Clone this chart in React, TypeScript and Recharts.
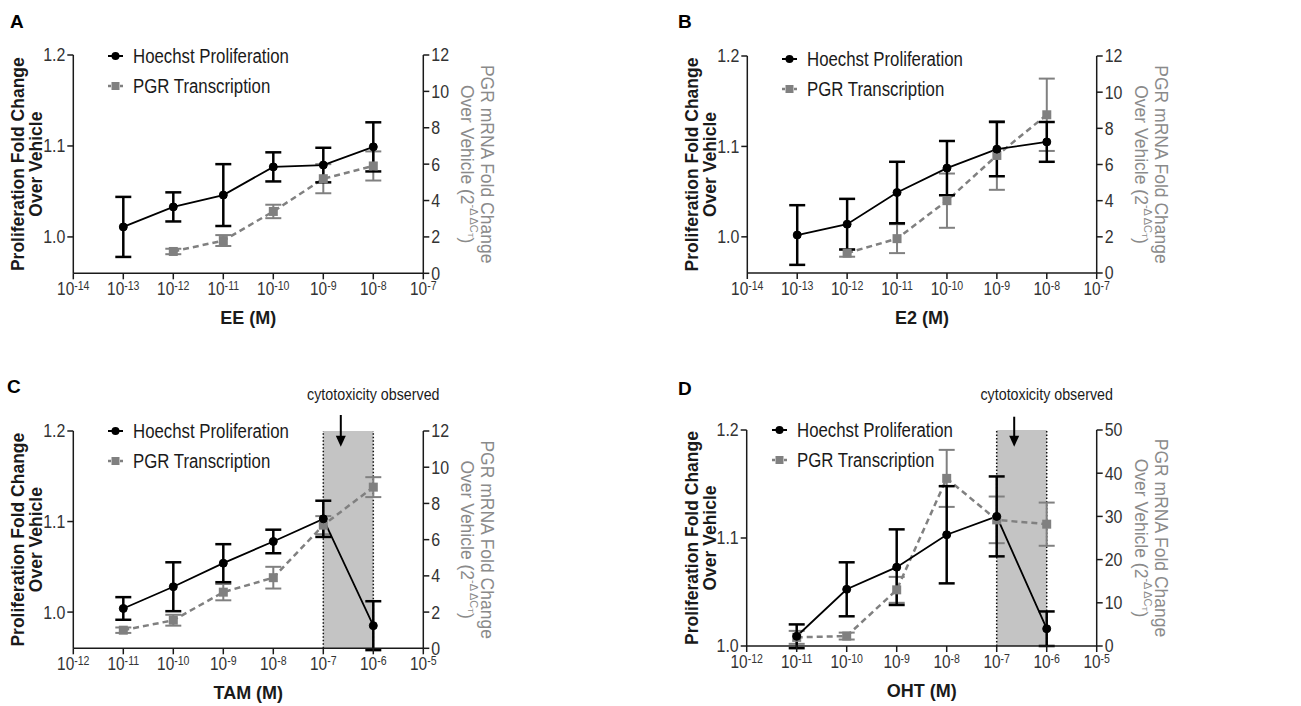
import React from "react";
import {
  ComposedChart,
  Line,
  XAxis,
  YAxis,
  ErrorBar,
  ReferenceArea,
  ReferenceLine,
  ReferenceDot,
  Legend,
  Label,
} from "recharts";

const SANS = "'Liberation Sans', Arial, Helvetica, sans-serif";
const NARROW_X = 0.84; // the figure uses a condensed face; squeeze regular glyphs
const INK = "#1a1a1a";
const GREY = "#808080";

// log10 of the molar dose for each point
const eeDoses = [-13, -12, -11, -10, -9, -8];
const eeProlif = [1.011, 1.033, 1.046, 1.077, 1.079, 1.099];
const eeProlifErr = [0.033, 0.016, 0.034, 0.016, 0.019, 0.027];
const eePgr = [null, 1.2, 1.8, 3.4, 5.2, 5.9];
const eePgrErr = [null, 0.15, 0.3, 0.37, 0.8, 0.8];

const e2Doses = [-13, -12, -11, -10, -9, -8];
const e2Prolif = [1.002, 1.014, 1.049, 1.076, 1.097, 1.105];
const e2ProlifErr = [0.033, 0.028, 0.034, 0.03, 0.03, 0.022];
const e2Pgr = [null, 1.1, 1.9, 4.0, 6.5, 8.75];
const e2PgrErr = [null, 0.2, 0.8, 1.5, 1.9, 2.0];

const tamDoses = [-11, -10, -9, -8, -7, -6];
const tamProlif = [1.004, 1.028, 1.054, 1.078, 1.103, 0.985];
const tamProlifErr = [0.0125, 0.027, 0.021, 0.013, 0.02, 0.027];
const tamPgr = [1.0, 1.55, 3.1, 3.9, 6.8, 8.9];
const tamPgrErr = [0.15, 0.3, 0.45, 0.6, 0.5, 0.55];

const ohtDoses = [-11, -10, -9, -8, -7, -6];
const ohtProlif = [1.009, 1.0525, 1.073, 1.103, 1.12, 1.016];
const ohtProlifErr = [0.011, 0.025, 0.035, 0.045, 0.037, 0.016];
const ohtPgr = [2.0, 2.3, 13.0, 38.8, 29.2, 28.2];
const ohtPgrErr = [1.5, 0.8, 3.0, 6.6, 5.4, 5.0];

const estrogenXTicks = [-14, -13, -12, -11, -10, -9, -8, -7];
const sermXTicks = [-12, -11, -10, -9, -8, -7, -6, -5];
const prolifTicks = [1.0, 1.1, 1.2];
const pgrTicks12 = [0, 2, 4, 6, 8, 10, 12];
const pgrTicks50 = [0, 10, 20, 30, 40, 50];

type Pt = { x: number; y: number; err: number };

function toPoints(doses: number[], vals: (number | null)[], errs: (number | null)[]): Pt[] {
  return doses
    .map((x, i) => ({ x, y: vals[i] as number, err: errs[i] as number }))
    .filter((d) => d.y != null);
}

function XPowTick(props: any) {
  const { x, y, payload } = props;
  return (
    <text
      transform={`translate(${x},${y + 16}) scale(0.88,1)`}
      textAnchor="middle"
      fontFamily={SANS}
      fontSize={17.5}
      fill="#333"
    >
      10
      <tspan dy={-5} fontSize={12}>
        {payload.value}
      </tspan>
    </text>
  );
}

function YTick(props: any) {
  const { x, y, payload, textAnchor, fmt } = props;
  return (
    <text
      transform={`translate(${x},${y}) scale(${NARROW_X},1)`}
      textAnchor={textAnchor}
      dominantBaseline="central"
      fontFamily={SANS}
      fontSize={19}
      fill="#333"
    >
      {fmt(payload.value)}
    </text>
  );
}

function LeftTitle(props: any) {
  const { x, y, width, height } = props.viewBox;
  const ax = x + width;
  const cy = y + height / 2;
  return (
    <g fontFamily={SANS} fontWeight="bold" fontSize={17.5} fill={INK}>
      <text transform={`translate(${ax - 55},${cy}) rotate(-90)`} textAnchor="middle" dominantBaseline="central">
        Proliferation Fold Change
      </text>
      <text transform={`translate(${ax - 37},${cy}) rotate(-90)`} textAnchor="middle" dominantBaseline="central">
        Over Vehicle
      </text>
    </g>
  );
}

function RightTitle(props: any) {
  const { x, y, height } = props.viewBox;
  const cy = y + height / 2;
  return (
    <g fontFamily={SANS} fontSize={17.5} fill="#8a8a8a">
      <text transform={`translate(${x + 64},${cy}) rotate(90)`} textAnchor="middle" dominantBaseline="central">
        PGR mRNA Fold Change
      </text>
      <text transform={`translate(${x + 44},${cy}) rotate(90)`} textAnchor="middle" dominantBaseline="central">
        Over Vehicle (2
        <tspan dy={-7} fontSize={11}>
          -Δ ΔC
        </tspan>
        <tspan dy={3} fontSize={8}>
          T
        </tspan>
        <tspan dy={4} fontSize={17.5}>
          )
        </tspan>
      </text>
    </g>
  );
}

function renderLegend() {
  const row = { display: "flex", alignItems: "center", height: 30, whiteSpace: "nowrap" as const };
  const label = {
    display: "inline-block",
    transform: `scaleX(${NARROW_X})`,
    transformOrigin: "left center",
  };
  return (
    <div style={{ fontFamily: SANS, fontSize: 20, color: INK }}>
      <div style={row}>
        <svg width={25} height={12} style={{ flex: "none" }}>
          <line x1={0} x2={15} y1={6} y2={6} stroke="#000" strokeWidth={2} />
          <circle cx={7.5} cy={6} r={4} fill="#000" />
        </svg>
        <span style={label}>Hoechst Proliferation</span>
      </div>
      <div style={row}>
        <svg width={25} height={12} style={{ flex: "none" }}>
          <line x1={0} x2={15} y1={6} y2={6} stroke={GREY} strokeWidth={2.5} strokeDasharray="3 3" />
          <rect x={3.5} y={2} width={8} height={8} fill={GREY} />
        </svg>
        <span style={label}>PGR Transcription</span>
      </div>
    </div>
  );
}

function Square(props: any) {
  const { cx, cy, index } = props;
  if (cx == null || cy == null) return <g key={`s${index}`} />;
  return <rect key={`s${index}`} x={cx - 4.5} y={cy - 4.5} width={9} height={9} fill={GREY} />;
}

function Arrow(props: any) {
  const { x1, y1, x2, y2 } = props;
  return (
    <g>
      <line x1={x1} y1={y1} x2={x2} y2={y2 - 8} stroke="#000" strokeWidth={2} />
      <polygon points={`${x2 - 5},${y2 - 11} ${x2 + 5},${y2 - 11} ${x2},${y2}`} fill="#000" />
    </g>
  );
}

function ToxText(props: any) {
  const { cx, cy } = props;
  return (
    <text
      transform={`translate(${cx},${cy}) scale(${NARROW_X},1)`}
      textAnchor="middle"
      fontFamily={SANS}
      fontSize={17}
      fill={INK}
    >
      cytotoxicity observed
    </text>
  );
}

type Tox = { from: number; to: number; arrowX: number; arrowTop: number; arrowBottom: number; textX: number; textY: number };

type PanelProps = {
  letter: string;
  xLabel: string;
  pos: { left: number; top: number; width: number; height: number };
  plot: { left: number; right: number; top: number; bottom: number };
  doses: number[];
  prolif: number[];
  prolifErr: number[];
  pgr: (number | null)[];
  pgrErr: (number | null)[];
  xTicks: number[];
  leftDomain: [number, number];
  rightDomain: [number, number];
  rightTicks: number[];
  legend: { left: number; top: number };
  letterPos: { left: number; top: number };
  tox?: Tox;
};

function Panel(p: PanelProps) {
  const leftW = 60;
  const rightW = 40;
  const xH = 30;
  const margin = {
    top: p.plot.top,
    left: p.plot.left - leftW,
    right: p.pos.width - p.plot.right - rightW,
    bottom: p.pos.height - p.plot.bottom - xH,
  };
  const prolifPts = toPoints(p.doses, p.prolif, p.prolifErr);
  const pgrPts = toPoints(p.doses, p.pgr, p.pgrErr);
  return (
    <div style={{ position: "absolute", left: p.pos.left, top: p.pos.top, width: p.pos.width, height: p.pos.height }}>
      <div
        style={{
          position: "absolute",
          left: p.letterPos.left,
          top: p.letterPos.top,
          fontFamily: SANS,
          fontWeight: "bold",
          fontSize: 19,
          lineHeight: "19px",
          color: "#000",
        }}
      >
        {p.letter}
      </div>
      <ComposedChart width={p.pos.width} height={p.pos.height} margin={margin}>
        <XAxis
          xAxisId="x"
          type="number"
          dataKey="x"
          domain={[p.xTicks[0], p.xTicks[p.xTicks.length - 1]]}
          ticks={p.xTicks}
          allowDataOverflow
          height={xH}
          tick={<XPowTick />}
          tickSize={6}
          tickMargin={0}
          stroke={INK}
          strokeWidth={1.5}
        >
          <Label
            content={(lp: any) => (
              <text
                x={lp.viewBox.x + lp.viewBox.width / 2}
                y={lp.viewBox.y + 51}
                textAnchor="middle"
                fontFamily={SANS}
                fontWeight="bold"
                fontSize={18}
                fill={INK}
              >
                {p.xLabel}
              </text>
            )}
          />
        </XAxis>
        <YAxis
          yAxisId="left"
          type="number"
          domain={p.leftDomain}
          ticks={prolifTicks}
          allowDataOverflow
          width={leftW}
          tickSize={6}
          tickMargin={2}
          tick={<YTick fmt={(v: number) => v.toFixed(1)} />}
          stroke={INK}
          strokeWidth={1.5}
        >
          <Label content={<LeftTitle />} />
        </YAxis>
        <YAxis
          yAxisId="right"
          orientation="right"
          type="number"
          domain={p.rightDomain}
          ticks={p.rightTicks}
          allowDataOverflow
          width={rightW}
          tickSize={6}
          tickMargin={2}
          tick={<YTick fmt={(v: number) => String(v)} />}
          stroke={INK}
          strokeWidth={1.5}
        >
          <Label content={<RightTitle />} />
        </YAxis>
        <Legend
          layout="vertical"
          align="center"
          verticalAlign="middle"
          content={renderLegend}
          wrapperStyle={{ left: p.legend.left, top: p.legend.top, width: 260, height: 60 }}
        />
        {p.tox && (
          <ReferenceArea
            xAxisId="x"
            yAxisId="left"
            x1={p.tox.from}
            x2={p.tox.to}
            fill="#c4c4c4"
            fillOpacity={1}
            stroke="none"
          />
        )}
        {p.tox && (
          <ReferenceLine xAxisId="x" yAxisId="left" x={p.tox.from} stroke="#111" strokeWidth={1.5} strokeDasharray="1.5 2" />
        )}
        {p.tox && (
          <ReferenceLine xAxisId="x" yAxisId="left" x={p.tox.to} stroke="#111" strokeWidth={1.5} strokeDasharray="1.5 2" />
        )}
        {p.tox && (
          <ReferenceLine
            xAxisId="x"
            yAxisId="left"
            ifOverflow="visible"
            segment={[
              { x: p.tox.arrowX, y: p.tox.arrowTop },
              { x: p.tox.arrowX, y: p.tox.arrowBottom },
            ]}
            shape={<Arrow />}
          />
        )}
        {p.tox && (
          <ReferenceDot
            xAxisId="x"
            yAxisId="left"
            x={p.tox.textX}
            y={p.tox.textY}
            r={0}
            ifOverflow="visible"
            shape={<ToxText />}
          />
        )}
        <Line
          xAxisId="x"
          yAxisId="right"
          data={pgrPts}
          dataKey="y"
          type="linear"
          stroke={GREY}
          strokeWidth={2.5}
          strokeDasharray="6 4"
          dot={<Square />}
          activeDot={false}
          isAnimationActive={false}
        >
          <ErrorBar dataKey="err" direction="y" width={8} stroke={GREY} strokeWidth={2} />
        </Line>
        <Line
          xAxisId="x"
          yAxisId="left"
          data={prolifPts}
          dataKey="y"
          type="linear"
          stroke="#000"
          strokeWidth={1.8}
          dot={{ r: 4, fill: "#000", stroke: "#000", strokeWidth: 1 }}
          activeDot={false}
          isAnimationActive={false}
        >
          <ErrorBar dataKey="err" direction="y" width={8} stroke="#000" strokeWidth={2.5} />
        </Line>
      </ComposedChart>
    </div>
  );
}

export default function App() {
  return (
    <div style={{ position: "absolute", left: 0, top: 0, width: 1301, height: 706, background: "#fff" }}>
      <Panel
        letter="A"
        xLabel="EE (M)"
        pos={{ left: 0, top: 0, width: 650, height: 350 }}
        plot={{ left: 73.3, right: 423.3, top: 55, bottom: 273.3 }}
        doses={eeDoses}
        prolif={eeProlif}
        prolifErr={eeProlifErr}
        pgr={eePgr}
        pgrErr={eePgrErr}
        xTicks={estrogenXTicks}
        leftDomain={[0.96, 1.2]}
        rightDomain={[0, 12]}
        rightTicks={pgrTicks12}
        legend={{ left: 108, top: 41 }}
        letterPos={{ left: 10, top: 12 }}
      />
      <Panel
        letter="B"
        xLabel="E2 (M)"
        pos={{ left: 650, top: 0, width: 651, height: 350 }}
        plot={{ left: 97.3, right: 446.7, top: 56, bottom: 273 }}
        doses={e2Doses}
        prolif={e2Prolif}
        prolifErr={e2ProlifErr}
        pgr={e2Pgr}
        pgrErr={e2PgrErr}
        xTicks={estrogenXTicks}
        leftDomain={[0.96, 1.2]}
        rightDomain={[0, 12]}
        rightTicks={pgrTicks12}
        legend={{ left: 131.7, top: 44 }}
        letterPos={{ left: 28, top: 12 }}
      />
      <Panel
        letter="C"
        xLabel="TAM (M)"
        pos={{ left: 0, top: 350, width: 650, height: 356 }}
        plot={{ left: 73.3, right: 423.3, top: 81, bottom: 298.3 }}
        doses={tamDoses}
        prolif={tamProlif}
        prolifErr={tamProlifErr}
        pgr={tamPgr}
        pgrErr={tamPgrErr}
        xTicks={sermXTicks}
        leftDomain={[0.96, 1.2]}
        rightDomain={[0, 12]}
        rightTicks={pgrTicks12}
        legend={{ left: 108, top: 66 }}
        letterPos={{ left: 7, top: 27 }}
        tox={{ from: -7, to: -6, arrowX: -6.65, arrowTop: 1.2177, arrowBottom: 1.1826, textX: -6, textY: 1.2343 }}
      />
      <Panel
        letter="D"
        xLabel="OHT (M)"
        pos={{ left: 650, top: 350, width: 651, height: 356 }}
        plot={{ left: 96.7, right: 446.7, top: 80, bottom: 296 }}
        doses={ohtDoses}
        prolif={ohtProlif}
        prolifErr={ohtProlifErr}
        pgr={ohtPgr}
        pgrErr={ohtPgrErr}
        xTicks={sermXTicks}
        leftDomain={[1.0, 1.2]}
        rightDomain={[0, 50]}
        rightTicks={pgrTicks50}
        legend={{ left: 121.7, top: 65 }}
        letterPos={{ left: 28, top: 29 }}
        tox={{ from: -7, to: -6, arrowX: -6.65, arrowTop: 1.2123, arrowBottom: 1.1846, textX: -6, textY: 1.2278 }}
      />
    </div>
  );
}
